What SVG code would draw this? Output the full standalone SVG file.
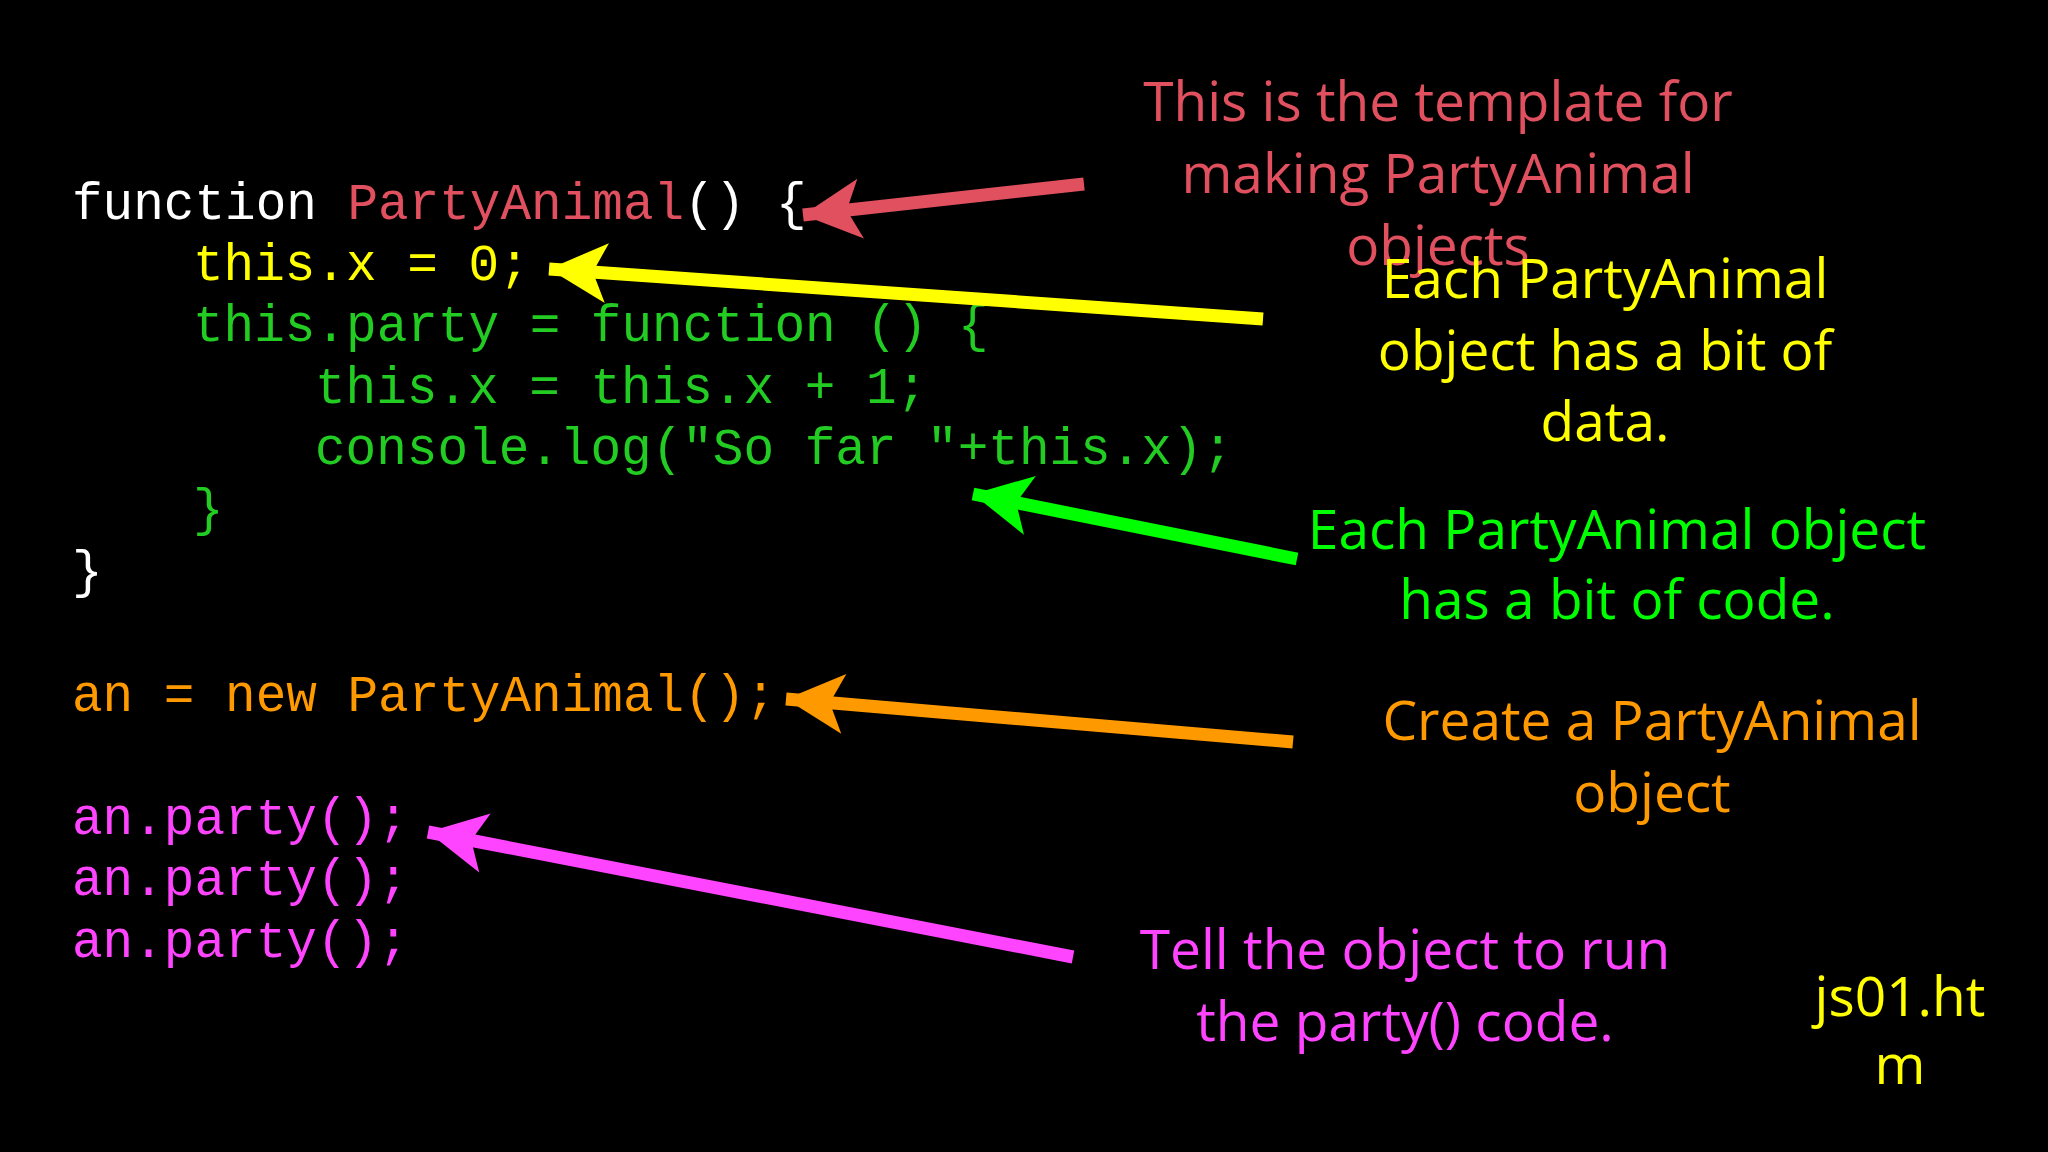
<svg xmlns="http://www.w3.org/2000/svg" width="2048" height="1152" viewBox="0 0 2048 1152">
<style>
.c{font-family:"Liberation Mono",monospace;font-size:51px;white-space:pre}
.l{font-family:"Open Sans","Noto Sans",sans-serif;font-size:55px;text-anchor:middle}
.w{fill:#ffffff}.r{fill:#e0505f}.y{fill:#ffff00}.g{fill:#22cc22}.o{fill:#ff9900}.m{fill:#ff44ff}
.a{stroke-width:13;fill:none}
</style>
<defs>
<marker id="mr" markerUnits="userSpaceOnUse" viewBox="-60 -32 64 64" refX="0" refY="0" markerWidth="64" markerHeight="64" orient="auto"><path d="M0,0 L-58,-30 L-44,0 L-58,30 z" fill="#e0505f"/></marker>
<marker id="my" markerUnits="userSpaceOnUse" viewBox="-60 -32 64 64" refX="0" refY="0" markerWidth="64" markerHeight="64" orient="auto"><path d="M0,0 L-58,-30 L-44,0 L-58,30 z" fill="#ffff00"/></marker>
<marker id="mg" markerUnits="userSpaceOnUse" viewBox="-60 -32 64 64" refX="0" refY="0" markerWidth="64" markerHeight="64" orient="auto"><path d="M0,0 L-58,-30 L-44,0 L-58,30 z" fill="#00ff00"/></marker>
<marker id="mo" markerUnits="userSpaceOnUse" viewBox="-60 -32 64 64" refX="0" refY="0" markerWidth="64" markerHeight="64" orient="auto"><path d="M0,0 L-58,-30 L-44,0 L-58,30 z" fill="#ff9900"/></marker>
<marker id="mm" markerUnits="userSpaceOnUse" viewBox="-60 -32 64 64" refX="0" refY="0" markerWidth="64" markerHeight="64" orient="auto"><path d="M0,0 L-58,-30 L-44,0 L-58,30 z" fill="#ff44ff"/></marker>
</defs>
<rect width="2048" height="1152" fill="#000"/>
<g id="code" class="c">
<text x="72" y="219"><tspan class="w">function </tspan><tspan class="r">PartyAnimal</tspan><tspan class="w">() {</tspan></text>
<text x="193" y="280" class="y">this.x = 0;</text>
<text x="193" y="341" class="g">this.party = function () {</text>
<text x="315" y="403" class="g">this.x = this.x + 1;</text>
<text x="315" y="464" class="g">console.log("So far "+this.x);</text>
<text x="193" y="525" class="g">}</text>
<text x="72" y="587" class="w">}</text>
<text x="72" y="711" class="o">an = new PartyAnimal();</text>
<text x="72" y="834" class="m">an.party();</text>
<text x="72" y="895" class="m">an.party();</text>
<text x="72" y="957" class="m">an.party();</text>
</g>
<g id="connectors">
<line x1="1084" y1="184" x2="803" y2="215" stroke="#e0505f" class="a" marker-end="url(#mr)"/>
<line x1="1263" y1="319" x2="549" y2="269" stroke="#ffff00" class="a" marker-end="url(#my)"/>
<line x1="1297" y1="559" x2="973" y2="494" stroke="#00ff00" class="a" marker-end="url(#mg)"/>
<line x1="1293" y1="742" x2="786" y2="699" stroke="#ff9900" class="a" marker-end="url(#mo)"/>
<line x1="1073" y1="957" x2="428" y2="832" stroke="#ff44ff" class="a" marker-end="url(#mm)"/>
</g>
<g id="label-template" class="l r"><text x="1438" y="121">This is the template for</text><text x="1438" y="193">making PartyAnimal</text><text x="1438" y="265">objects</text></g>
<g id="label-data" class="l y"><text x="1605" y="298">Each PartyAnimal</text><text x="1605" y="370">object has a bit of</text><text x="1605" y="441">data.</text></g>
<g id="label-code" class="l" fill="#00ff00"><text x="1617" y="549">Each PartyAnimal object</text><text x="1617" y="619">has a bit of code.</text></g>
<g id="label-create" class="l o"><text x="1652" y="740">Create a PartyAnimal</text><text x="1652" y="812">object</text></g>
<g id="label-run" class="l m"><text x="1405" y="969">Tell the object to run</text><text x="1405" y="1041">the party() code.</text></g>
<g id="label-file" class="l y"><text x="1900" y="1016">js01.ht</text><text x="1900" y="1084">m</text></g>
</svg>
